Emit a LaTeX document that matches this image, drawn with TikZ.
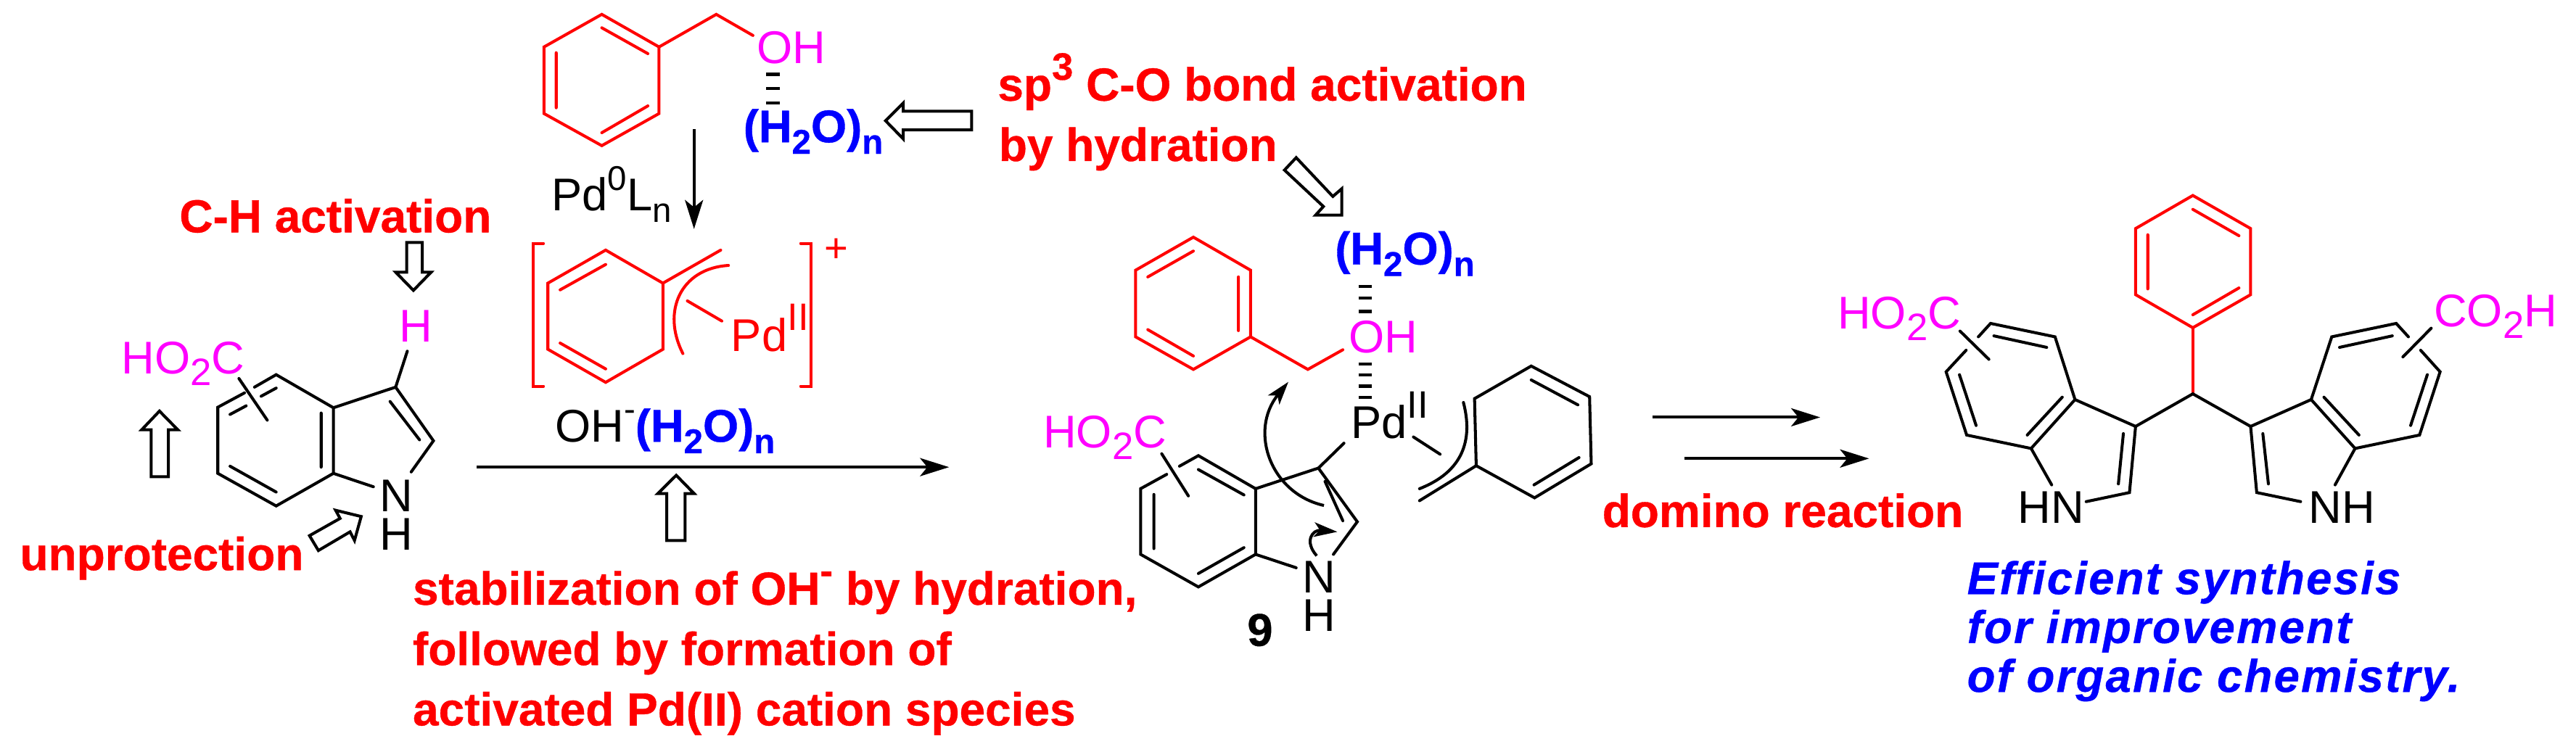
\documentclass[tikz,border=0pt]{standalone}
\usepackage{fontspec}
\usetikzlibrary{arrows.meta}
\setmainfont{Liberation Sans}[BoldFeatures={FakeBold=0.6},BoldItalicFeatures={FakeBold=0.6}]
\newfontfamily\goalfont{Liberation Sans}[LetterSpace=3.7,BoldItalicFeatures={FakeBold=0.6}]
\definecolor{mag}{RGB}{255,0,255}
\definecolor{rd}{RGB}{255,0,0}
\definecolor{bl}{RGB}{0,0,255}
\newcommand{\dn}[1]{\raisebox{-0.25em}{\fontsize{15}{15}\selectfont #1}}
\newcommand{\dnsm}[1]{\raisebox{-0.25em}{\fontsize{13.5}{13.5}\selectfont #1}}
\newcommand{\up}[1]{\raisebox{0.45em}{\fontsize{15}{15}\selectfont #1}}
\newcommand{\upsm}[1]{\raisebox{0.45em}{\fontsize{13.5}{13.5}\selectfont #1}}
\newcommand{\water}{{\bfseries\color{bl}(H\dnsm{2}O)\dnsm{n}}}
\tikzset{
  zoomed/.style={x=0.0076529cm,y=-0.0066137cm},
  bond/.style={line width=1.15pt,line cap=round,line join=miter,draw=black},
  rbond/.style={bond,draw=rd},
  txt/.style={inner sep=0pt,anchor=base west,font=\fontsize{18}{18}\selectfont},
  mid/.style={inner sep=0pt,anchor=center,font=\fontsize{18}{18}\selectfont},
  note/.style={inner sep=0pt,anchor=base west,text=rd,font=\fontsize{18.2}{18.2}\selectfont\bfseries},
  goal/.style={inner sep=0pt,anchor=base west,text=bl,font=\goalfont\fontsize{18}{18}\selectfont\bfseries\itshape},
  hollow/.style={line width=1.15pt,draw=black,fill=white,line join=miter},
  rxn/.style={line width=1.15pt,draw=black,-{Stealth[length=0.4cm,width=0.25cm,inset=0.1cm]}},
  curly/.style={line width=1.15pt,draw=black,-{Stealth[length=0.32cm,width=0.2cm,inset=0.08cm]}},
  hbond/.style={line width=1.2pt,draw=black},
}
\begin{document}
\begin{tikzpicture}
\useasboundingbox (0,0) rectangle (35.51,-10.37);
\fill[white] (0,0) rectangle (35.51,-10.37);

% ---------- left part
\begin{scope}[zoomed]
% benzyl alcohol
\draw[rbond] (1083,30)--(1186,98)--(1186,237)--(1083,304)--(979,237)--(979,98)--cycle;
\draw[rbond] (1083,58)--(1166,112) (1001,110)--(1001,225) (1083,277)--(1166,221);
\draw[rbond] (1186,98)--(1289,30)--(1355,74);
\node[txt,text=mag] (oh1) at (1361,132) {OH};
\foreach \y in {155,185,215} \draw[hbond] (1379,\y)--(1403,\y);
\node[txt] (w1) at (1337,297) {\water};
\coordinate (a1s) at (1249,270); \coordinate (a1e) at (1249,478);
\draw[rxn] (a1s)--(a1e);
\node[txt] (pd0) at (992,440) {Pd\upsm{0}L\dnsm{n}};
% cation
\draw[rbond] (978,508)--(960,508)--(960,806)--(978,806);
\draw[rbond] (1441,508)--(1460,508)--(1460,806)--(1441,806);
\node[mid,text=rd,font=\fontsize{16}{16}\selectfont] (plus) at (1505,522) {+};
\draw[rbond] (1090,522)--(1193,591)--(1193,729)--(1090,798)--(986,729)--(986,591)--cycle;
\draw[rbond] (1090,552)--(1008,605) (1008,716)--(1090,770);
\draw[rbond] (1193,591)--(1297,522);
\draw[rbond] (1311,554) .. controls (1225,560) and (1190,650) .. (1229,738);
\draw[rbond] (1237,628)--(1299,670);
\node[txt,text=rd] (pd2) at (1315,733) {Pd\up{II}};
\node[txt,text=black] (oh2) at (998,922) {OH\upsm{-}\water};
% reaction arrow
\coordinate (r1s) at (858,975); \coordinate (r1e) at (1708,975);
\draw[rxn] (r1s)--(r1e);
% hollow arrows
\draw[hollow] (732,506)--(760,506)--(760,568)--(776,568)--(744,606)--(712,568)--(732,568)--cycle;
\draw[hollow] (272,995)--(303,995)--(303,897)--(320,897)--(287,858)--(255,897)--(272,897)--cycle;
\draw[hollow] (557,1118)--(612,1082)--(604,1065)--(650,1078)--(638,1128)--(630,1110)--(573,1149)--cycle;
\draw[hollow] (1200,1128)--(1233,1128)--(1233,1030)--(1249,1030)--(1217,992)--(1184,1030)--(1200,1030)--cycle;
% indole 1
\draw[bond] (458,808)--(497,782)--(600,851)--(600,988)--(497,1056)--(392,988)--(392,850)--(440,820);
\draw[bond] (600,851)--(712,808)--(780,920)--(740,985) (600,988)--(672,1016);
\draw[bond] (702,838)--(755,918) (578,862)--(578,975) (414,973)--(497,1027) (414,865)--(443,847) (470,827)--(497,810);
\draw[bond] (430,790)--(481,877) (712,808)--(733,733);
\node[mid] (n1) at (713,1035) {N};
\node[mid] (h1) at (713,1115) {H};
\node[mid,text=mag] (h1b) at (748,680) {H};
\node[txt,text=mag] (co1) at (218,780) {HO\dn{2}C};
% notes
\node[note] (t1) at (322,485) {C-H activation};
\node[note] (t2) at (35,1190) {unprotection};
\node[note] (t3) at (742,1262) {stabilization of OH\up{-} by hydration,};
\node[note] (t4) at (742,1388) {followed by formation of};
\node[note] (t5) at (742,1514) {activated Pd(II) cation species};
\end{scope}

% ---------- middle part
\begin{scope}[zoomed,xshift=12cm]
\node[note] (t6) at (228,210) {sp\up{3} C-O bond activation};
\node[note] (t7) at (230,336) {by hydration};
\draw[hollow] (27,252)--(59,215)--(59,232)--(182,232)--(182,271)--(59,271)--(59,290)--cycle;
\draw[hollow] (745,355)--(766,329)--(832,410)--(848,394)--(848,449)--(801,449)--(815,431)--cycle;
\node[txt] (w2) at (835,552) {\water};
\foreach \y in {598,622,650,760,783,806,829} \draw[hbond] (878,\y)--(902,\y);
\node[txt,text=mag] (oh3) at (860,737) {OH};
\draw[rbond] (581,495)--(684,564)--(684,703)--(581,771)--(477,703)--(477,564)--cycle;
\draw[rbond] (581,524)--(499,578) (662,578)--(662,690) (581,743)--(499,688);
\draw[rbond] (684,703)--(787,771)--(850,730);
\node[txt] (pd3) at (864,915) {Pd\up{II}};
% indole 2
\draw[bond] (852,925)--(806,977);
\draw[bond] (556,973)--(590,951)--(693,1020)--(693,1157)--(590,1225)--(486,1157)--(486,1020)--(533,990);
\draw[bond] (693,1020)--(806,977)--(876,1089)--(833,1157) (693,1157)--(766,1185);
\draw[bond] (818,1005)--(850,1087) (590,980)--(672,1033) (510,1032)--(510,1145) (590,1197)--(672,1143);
\draw[bond] (524,947)--(572,1035);
\node[mid] (n2) at (807,1205) {N};
\node[mid] (h2) at (807,1285) {H};
\node[mid,font=\fontsize{18}{18}\selectfont\bfseries] (nine) at (701,1315) {9};
\node[txt,text=mag] (co2) at (310,935) {HO\dn{2}C};
\draw[curly] (816,1055) .. controls (720,1030) and (680,900) .. (752,797);
\draw[curly] (803,1160) .. controls (780,1130) and (795,1105) .. (840,1110);
% eta3 ligand
\draw[bond] (1189,764)--(1294,828)--(1297,968)--(1195,1039)--(1090,972)--(1087,832)--cycle;
\draw[bond] (1189,793)--(1273,845) (1275,955)--(1194,1012);
\draw[bond] (1090,972)--(988,1045) (977,912)--(1025,948);
\draw[bond] (1067,840) .. controls (1085,920) and (1065,985) .. (988,1020);
% arrows
\coordinate (r2s) at (1407,871); \coordinate (r2e) at (1709,871);
\coordinate (r3s) at (1465,957); \coordinate (r3e) at (1797,957);
\draw[rxn] (r2s)--(r2e);
\draw[rxn] (r3s)--(r3e);
\node[note] (t8) at (1316,1100) {domino reaction};
\end{scope}

% ---------- right part
\begin{scope}[zoomed,xshift=23.51cm]
\draw[rbond] (877,408)--(981,477)--(981,615)--(877,684)--(774,615)--(774,477)--cycle;
\draw[rbond] (877,437)--(960,492) (796,490)--(796,603) (877,657)--(960,601);
\draw[rbond] (877,684)--(877,822);
\draw[bond] (774,890)--(877,822)--(981,890);
% left indole
\draw[bond] (774,890)--(665,834)--(586,936)--(623,1012) (774,890)--(763,1028)--(685,1047);
\draw[bond] (491,703)--(513,675)--(629,703)--(665,834) (586,936)--(470,908)--(433,776)--(469,731);
\draw[bond] (752,905)--(743,1010) (642,829)--(579,908) (614,725)--(519,701) (457,782)--(487,888);
\draw[bond] (458,691)--(510,750);
\node[txt] (hn) at (561,1092) {HN};
\node[txt,text=mag] (co3) at (237,687) {HO\dn{2}C};
% right indole
\draw[bond] (981,890)--(1090,834)--(1169,936)--(1133,1012) (981,890)--(992,1028)--(1071,1047);
\draw[bond] (1265,703)--(1243,675)--(1127,703)--(1090,834) (1169,936)--(1285,908)--(1322,776)--(1287,731);
\draw[bond] (1003,905)--(1013,1010) (1113,829)--(1176,908) (1141,725)--(1236,701) (1299,782)--(1269,888);
\draw[bond] (1306,685)--(1255,745);
\node[txt] (nh) at (1085,1092) {NH};
\node[txt,text=mag] (co4) at (1310,682) {CO\dn{2}H};
\node[goal] (g1) at (470,1240) {Efficient synthesis};
\node[goal] (g2) at (470,1342) {for improvement};
\node[goal] (g3) at (470,1444) {of organic chemistry.};
\end{scope}
\end{tikzpicture}
\end{document}
